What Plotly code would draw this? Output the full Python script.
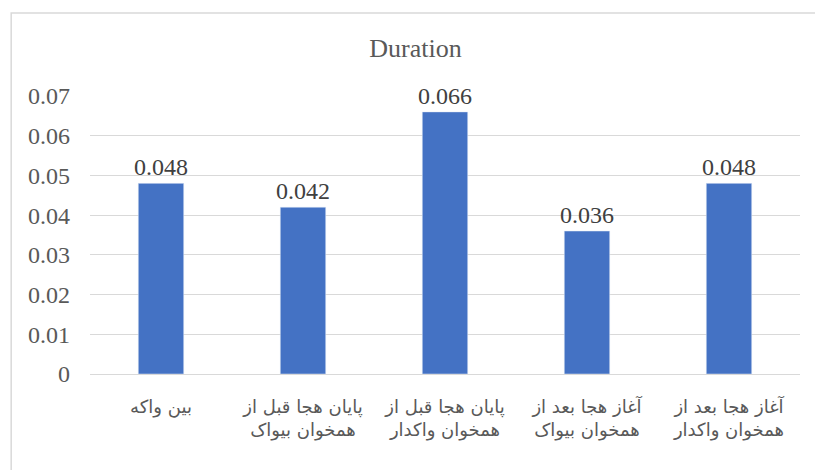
import plotly.graph_objects as go

# Datos del grafico
categorias = [
    "بین واکه",
    "پایان هجا قبل از<br>همخوان بیواک",
    "پایان هجا قبل از<br>همخوان واکدار",
    "آغاز هجا بعد از<br>همخوان بیواک",
    "آغاز هجا بعد از<br>همخوان واکدار",
]
duracion = [0.048, 0.042, 0.066, 0.036, 0.048]
ticks_y = [0, 0.01, 0.02, 0.03, 0.04, 0.05, 0.06, 0.07]

gris = "#595959"
serif = "Liberation Serif"

fig = go.Figure(go.Bar(
    x=categorias,
    y=duracion,
    marker=dict(color="#4472C4"),
    text=[str(v) for v in duracion],
    textposition="outside",
    constraintext="none",
    textfont=dict(family=serif, size=24, color="#404040"),
    cliponaxis=False,
    hoverinfo="x+y",
))

fig.update_layout(
    width=815,
    height=462,
    paper_bgcolor="white",
    plot_bgcolor="white",
    margin=dict(l=82, r=23, t=88, b=96),
    bargap=0.68,
    showlegend=False,
    uniformtext=dict(mode=False),
    title=dict(text="Duration", x=0.5, xanchor="center", y=0.913, yanchor="middle",
               font=dict(family=serif, size=26, color=gris)),
    xaxis=dict(
        showgrid=False,
        showline=True,
        linecolor="#D9D9D9",
        linewidth=1,
        ticks="",
        ticklabelstandoff=16,
        tickfont=dict(family="DejaVu Sans", size=18, color=gris),
    ),
    yaxis=dict(
        range=[0, 0.07],
        tickvals=ticks_y,
        ticktext=[f"{v:g}" for v in ticks_y],
        showgrid=True,
        gridcolor="#D9D9D9",
        gridwidth=1,
        zeroline=False,
        ticks="",
        ticklabelstandoff=19,
        tickfont=dict(family=serif, size=24, color=gris),
    ),
    shapes=[dict(
        type="rect", xref="paper", yref="paper",
        x0=-0.111, x1=1.1, y0=-0.5, y1=1.299,
        line=dict(color="#D9D9D9", width=1.5),
        fillcolor="rgba(0,0,0,0)",
        layer="below",
    )],
)

fig.write_html("out.html")
